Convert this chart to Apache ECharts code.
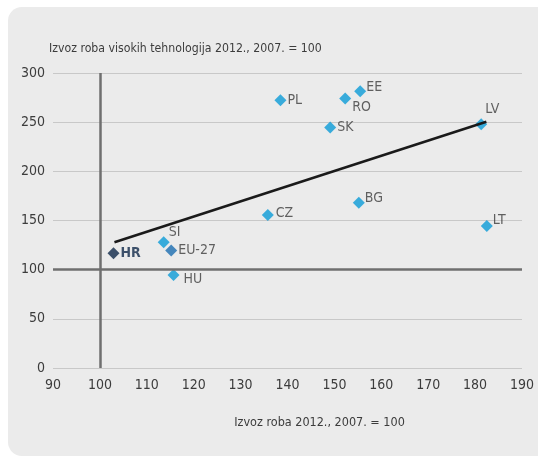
<!DOCTYPE html>
<html>
<head>
<meta charset="utf-8">
<script src="https://cdn.jsdelivr.net/npm/echarts@6/dist/echarts.min.js"></script>
<style>
  html, body { margin: 0; padding: 0; background: #fff; }
  #main { width: 538px; height: 458px; }
</style>
</head>
<body>
<div id="main"></div>
<script>
  // podaci (očitani s grafikona)
  var countries = ['PL', 'RO', 'EE', 'SK', 'LV', 'LT', 'BG', 'CZ', 'SI', 'EU-27', 'HU', 'HR'];
  var exportIndex = [138.5, 152.3, 155.5, 149.1, 181.3, 182.5, 155.2, 135.8, 113.6, 115.2, 115.7, 102.9];
  var hightechIndex = [272.4, 274, 281.5, 244.7, 248, 144.5, 168.1, 155.6, 127.9, 119.4, 94.7, 116.7];
  // linija trenda
  var trendX = [103.1, 182.4];
  var trendY = [127.9, 250.4];
  // oznake osi
  var xTicks = [90, 100, 110, 120, 130, 140, 150, 160, 170, 180, 190];
  var yTicks = [0, 50, 100, 150, 200, 250, 300];

  var FONT = "'Liberation Sans Narrow', 'DejaVu Sans Condensed', sans-serif";
  var TXT = '#3c3c3c';

  // boje i pomaci oznaka po zemlji
  var colorOf = { 'HR': '#10294a', 'EU-27': '#1a6db0' };
  var labelOffset = {
    'RO': [1, 9], 'EE': [0, -4], 'LV': [-2, -15], 'LT': [0, -6],
    'SI': [-1, -10], 'HU': [4, 4], 'CZ': [2, -2], 'BG': [0, -4]
  };

  var points = countries.map(function (c, i) {
    var off = labelOffset[c] || [1, 0];
    return {
      name: c,
      value: [exportIndex[i], hightechIndex[i]],
      itemStyle: { color: colorOf[c] || '#0b9bd7' },
      label: {
        offset: off,
        fontWeight: c === 'HR' ? 'bold' : 'normal',
        color: c === 'HR' ? '#10294a' : TXT
      }
    };
  });

  var myChart = echarts.init(document.getElementById('main'));
  myChart.setOption({
    backgroundColor: '#fff',
    animation: false,
    textStyle: { fontFamily: FONT },
    graphic: [{
      type: 'rect',
      z: -10,
      shape: { x: 8, y: 7, width: 560, height: 449, r: 14 },
      style: { fill: '#ebebeb' }
    }],
    grid: { left: 53, right: 16, top: 73, bottom: 90 },
    xAxis: {
      type: 'value',
      min: xTicks[0],
      max: xTicks[xTicks.length - 1],
      interval: 10,
      name: 'Izvoz roba 2012., 2007. = 100',
      nameLocation: 'middle',
      nameGap: 48,
      nameTextStyle: { color: TXT, fontSize: 12.5, fontFamily: FONT, padding: [0, 0, 0, 64] },
      axisLine: { show: false },
      axisTick: { show: false },
      splitLine: { show: false },
      axisLabel: { color: TXT, fontSize: 14, margin: 10, fontFamily: FONT }
    },
    yAxis: {
      type: 'value',
      min: yTicks[0],
      max: yTicks[yTicks.length - 1],
      interval: 50,
      name: 'Izvoz roba visokih tehnologija 2012., 2007. = 100',
      nameLocation: 'end',
      nameGap: 18,
      nameTextStyle: { color: TXT, fontSize: 12.2, fontFamily: FONT, align: 'left', padding: [0, 0, 0, -4] },
      axisLine: { show: false },
      axisTick: { show: false },
      splitLine: { lineStyle: { color: '#c8c8c8', width: 1 } },
      axisLabel: { color: TXT, fontSize: 14, margin: 8, fontFamily: FONT }
    },
    series: [{
      type: 'scatter',
      symbol: 'diamond',
      symbolSize: 12,
      z: 3,
      data: points,
      label: {
        show: true,
        position: 'right',
        distance: 0,
        formatter: '{b}',
        fontSize: 14,
        fontFamily: FONT
      },
      markLine: {
        silent: true,
        symbol: 'none',
        label: { show: false },
        lineStyle: { color: '#6f6f6f', width: 2.5, type: 'solid' },
        data: [{ xAxis: 100 }, { yAxis: 100 }]
      }
    }, {
      type: 'line',
      z: 4,
      symbol: 'none',
      silent: true,
      lineStyle: { color: '#1a1a1a', width: 2.5 },
      data: trendX.map(function (x, i) { return [x, trendY[i]]; })
    }]
  });
</script>
</body>
</html>
